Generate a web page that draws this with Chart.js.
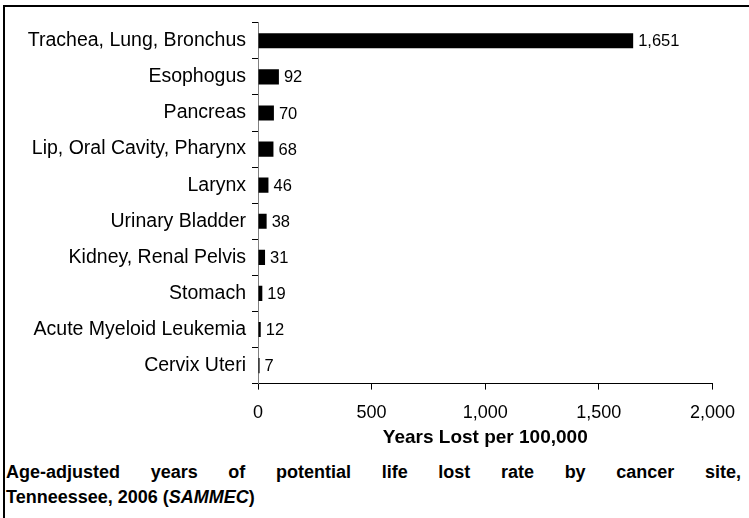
<!DOCTYPE html>
<html><head><meta charset="utf-8">
<script src="https://cdn.jsdelivr.net/npm/chart.js@4.4.1/dist/chart.umd.min.js"></script>
<style>
html,body{margin:0;padding:0;background:#fff;width:749px;height:518px;overflow:hidden;font-family:"Liberation Sans",Arial,sans-serif;}
#frame{position:absolute;left:3px;top:5px;width:760px;height:540px;border-top:2px solid #000;border-left:2px solid #000;}
#wrap{position:absolute;left:4px;top:7px;width:744px;height:442px;}
.cap{position:absolute;left:6px;width:735px;font-weight:bold;font-size:18px;line-height:25px;color:#000;white-space:nowrap;}
#cap1{top:460px;text-align:justify;text-align-last:justify;white-space:normal;}
#cap2{top:485px;text-align:left;}
</style></head>
<body>
<div id="frame"></div>
<div id="wrap"><canvas id="c" width="744" height="442"></canvas></div>
<div class="cap" id="cap1">Age-adjusted years of potential life lost rate by cancer site,</div>
<div class="cap" id="cap2">Tenneessee, 2006 (<i>SAMMEC</i>)</div>
<script>
const categories = ["Trachea, Lung, Bronchus","Esophogus","Pancreas","Lip, Oral Cavity, Pharynx","Larynx","Urinary Bladder","Kidney, Renal Pelvis","Stomach","Acute Myeloid Leukemia","Cervix Uteri"];
const values = [1651,92,70,68,46,38,31,19,12,7];
const xTicks = [0,500,1000,1500,2000];

const FONT = '"Liberation Sans", Arial, sans-serif';
const labelPlugin = {
  id:'barLabels',
  afterDatasetsDraw(chart){
    const ctx = chart.ctx;
    const meta = chart.getDatasetMeta(0);
    ctx.save();
    ctx.font = '16.5px ' + FONT;
    ctx.fillStyle = '#000';
    ctx.textBaseline = 'middle';
    ctx.textAlign = 'left';
    meta.data.forEach((bar,i)=>{
      ctx.fillText(values[i].toLocaleString('en-US'), bar.x + 5, bar.y + 1);
    });
    ctx.restore();
  }
};

new Chart(document.getElementById('c'),{
  type:'bar',
  data:{labels:categories,datasets:[{data:values,backgroundColor:'#000',borderWidth:0,barPercentage:0.42,categoryPercentage:1}]},
  options:{
    indexAxis:'y',responsive:false,animation:false,
    layout:{padding:{top:0,right:14,left:0,bottom:0}},
    plugins:{legend:{display:false},tooltip:{enabled:false}},
    scales:{
      x:{min:0,max:2000,
        afterBuildTicks(s){s.ticks = xTicks.map(v=>({value:v}));},
        grid:{drawOnChartArea:false,drawTicks:true,tickLength:6,color:'#000'},
        border:{color:'#000',width:1},
        ticks:{color:'#000',font:{size:18,family:FONT},padding:13,maxRotation:0,callback:(v)=>Number(v).toLocaleString('en-US')},
        title:{display:true,text:'Years Lost per 100,000',color:'#000',font:{size:19,weight:'bold',family:FONT},padding:{top:-11,bottom:0}}
      },
      y:{
        afterFit(s){s.width = 254;},
        grid:{drawOnChartArea:false,drawTicks:true,tickLength:6,color:'#000'},
        border:{color:'#808080',width:1},
        ticks:{color:'#000',font:{size:19.5,family:FONT,lineHeight:1},padding:6}
      }
    }
  },
  plugins:[labelPlugin]
});
</script>
</body></html>
